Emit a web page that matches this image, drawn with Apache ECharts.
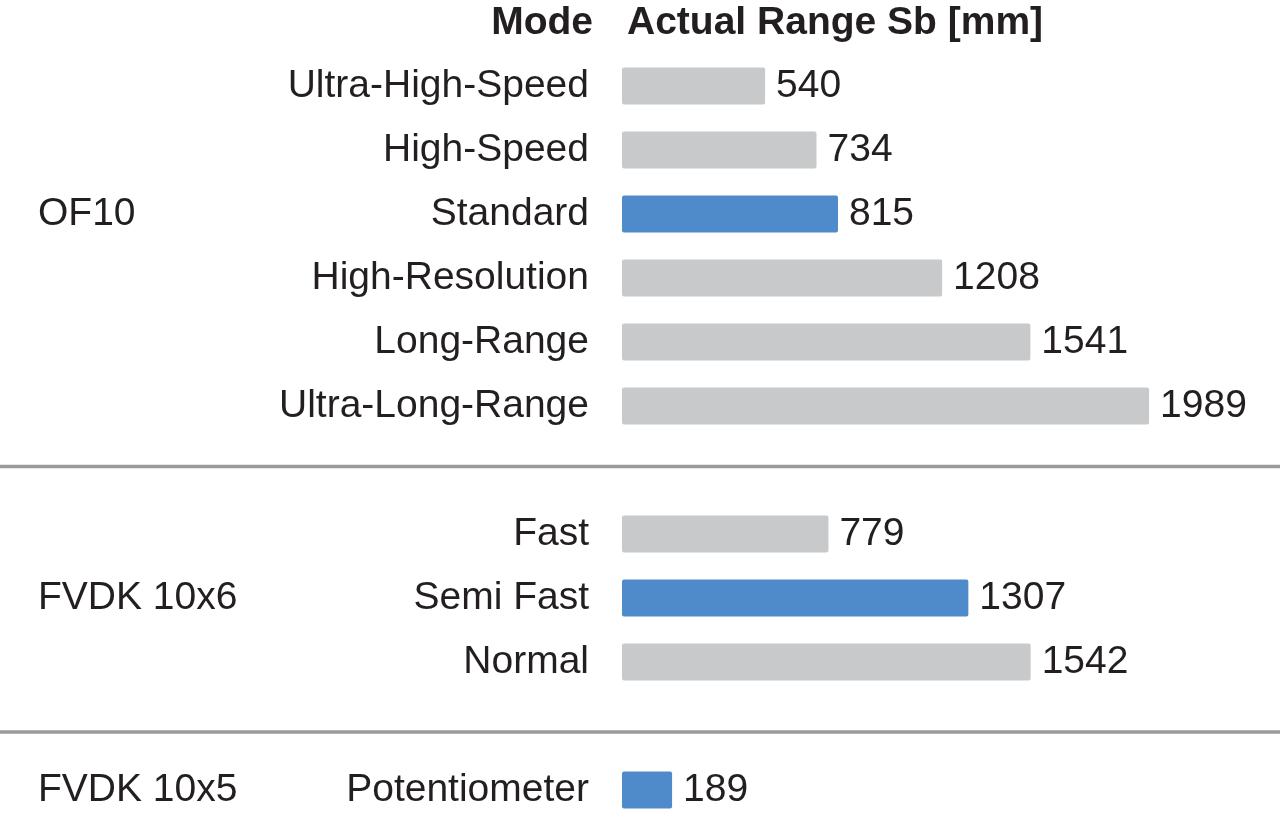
<!DOCTYPE html>
<html>
<head>
<meta charset="utf-8">
<title>Actual Range Sb</title>
<script src="https://cdn.jsdelivr.net/npm/echarts@6.0.0/dist/echarts.min.js"></script>
<style>
  html, body { margin: 0; padding: 0; background: #fff; }
  #main { width: 1280px; height: 817px; }
</style>
</head>
<body>
<div id="main"></div>
<script>
"use strict";

// rows from top to bottom, empty rows are the gaps between the groups
var modes = ['Ultra-High-Speed', 'High-Speed', 'Standard', 'High-Resolution', 'Long-Range', 'Ultra-Long-Range',
             ' ', 'Fast', 'Semi Fast', 'Normal', '  ', 'Potentiometer'];
var rangeValues = [540, 734, 815, 1208, 1541, 1989, '-', 779, 1307, 1542, '-', 189];
var groupLabels = ['', '', 'OF10', '', '', '', '', '', 'FVDK 10x6', '', '', 'FVDK 10x5'];
var highlighted = ['Standard', 'Semi Fast', 'Potentiometer'];
var gapRows = [6, 10];

var FONT = "'Liberation Sans', Arial, Helvetica, sans-serif";
var TEXT = '#231f20';
var FS = 39;

window.onload = function () {

    var myChart = echarts.init(document.getElementById('main'));

    var option = {
        animation: false,
        backgroundColor: '#ffffff',
        textStyle: { fontFamily: FONT },
        grid: { left: 622, right: 22, top: 54, height: 768, containLabel: false, outerBoundsMode: 'none' },
        xAxis: {
            type: 'value',
            min: 0,
            max: 2400,
            show: false
        },
        yAxis: [
            {
                type: 'category',
                inverse: true,
                data: modes,
                axisLine: { show: false },
                axisTick: { show: false },
                splitLine: { show: false },
                axisLabel: {
                    interval: 0,
                    margin: 33,
                    fontSize: FS,
                    padding: [7, 0, 0, 0],
                    color: TEXT,
                    fontFamily: FONT
                }
            },
            {
                // group names (OF10, FVDK ...) on the far left
                type: 'category',
                inverse: true,
                position: 'left',
                offset: 584,
                data: groupLabels,
                axisLine: { show: false },
                axisTick: { show: false },
                splitLine: { show: false },
                axisLabel: {
                    interval: 0,
                    margin: 0,
                    align: 'left',
                    fontSize: FS,
                    padding: [7, 0, 0, 0],
                    color: TEXT,
                    fontFamily: FONT
                }
            }
        ],
        series: [{
            type: 'bar',
            data: rangeValues,
            barWidth: 37,
            itemStyle: {
                borderRadius: 2,
                color: function (p) {
                    return highlighted.indexOf(p.name) >= 0 ? '#4f8bcb' : '#c8c9cb';
                }
            },
            label: {
                show: true,
                position: 'right',
                distance: 11,
                fontSize: FS,
                padding: [7, 0, 0, 0],
                color: TEXT,
                fontFamily: FONT
            }
        }]
    };
    myChart.setOption(option);

    // header + separator lines between the groups
    var rowY = function (i) {
        return myChart.convertToPixel({ yAxisIndex: 0 }, i);
    };
    var sepY = [
        rowY(gapRows[0]) - 3.5,
        rowY(gapRows[1]) + 6
    ];

    var graphics = [
        {
            type: 'text',
            x: 593, y: 23,
            style: {
                text: 'Mode', fill: TEXT,
                font: 'bold ' + FS + 'px ' + FONT,
                align: 'right', verticalAlign: 'middle'
            }
        },
        {
            type: 'text',
            x: 627, y: 23,
            style: {
                text: 'Actual Range Sb [mm]', fill: TEXT,
                font: 'bold ' + FS + 'px ' + FONT,
                align: 'left', verticalAlign: 'middle'
            }
        }
    ];
    for (var i = 0; i < sepY.length; i++) {
        graphics.push({
            type: 'line',
            shape: { x1: 0, y1: sepY[i], x2: 1280, y2: sepY[i] },
            style: { stroke: '#9a9a9a', lineWidth: 3.5 }
        });
    }
    myChart.setOption({ graphic: graphics });
};
</script>
</body>
</html>
